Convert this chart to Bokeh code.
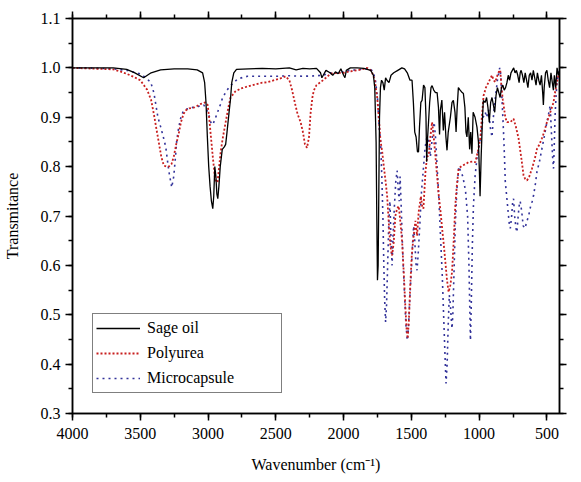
from bokeh.plotting import figure
from bokeh.models import (Range1d, LinearAxis, SingleIntervalTicker, Legend, LegendItem,
                          PrintfTickFormatter)
from bokeh.embed import file_html
from bokeh.resources import INLINE

# FTIR spectra: wavenumber (cm-1) and transmittance for each sample
sage_wn = [4000, 3900, 3800, 3700, 3600, 3540, 3475, 3420, 3350, 3250,
           3150, 3080, 3040, 3025, 3015, 3005, 2995, 2985, 2975, 2965,
           2958, 2950, 2942, 2935, 2928, 2920, 2910, 2895, 2880, 2870,
           2860, 2845, 2835, 2825, 2810, 2790, 2700, 2600, 2500, 2400,
           2350, 2300, 2250, 2200, 2170, 2160, 2150, 2130, 2100, 2080,
           2060, 2040, 2020, 2000, 1990, 1980, 1950, 1900, 1850, 1800,
           1780, 1770, 1760, 1755, 1750, 1745, 1740, 1735, 1728, 1720,
           1710, 1700, 1690, 1680, 1665, 1650, 1630, 1600, 1570,
           1550, 1530, 1510, 1495, 1485, 1475, 1465, 1455, 1447, 1440,
           1430, 1421, 1410, 1400, 1392, 1387, 1380, 1374, 1365, 1355,
           1347, 1335, 1322, 1310, 1300, 1292, 1286, 1275, 1264, 1255,
           1245, 1237, 1228, 1212, 1200, 1190, 1178, 1170, 1162, 1153,
           1140, 1125, 1116, 1105, 1097, 1090, 1080, 1070, 1062, 1053,
           1044, 1030, 1016, 1005, 998, 993, 985, 975, 969,
           955, 945, 935, 925, 915, 905, 895, 885, 875, 865,
           855, 845, 835, 825, 815, 805, 795, 785, 775, 765,
           755, 745, 735, 725, 715, 705, 697, 690, 680, 670,
           660, 650, 640, 630, 620, 610, 600, 590, 580, 570,
           560, 550, 540, 530, 526, 520, 510, 500, 490, 480,
           470, 460, 452, 445, 435, 425, 415, 405]
sage_t = [1.000, 1.000, 1.000, 1.000, 0.997, 0.990, 0.980, 0.990, 0.996, 0.998,
          0.998, 0.996, 0.990, 0.970, 0.930, 0.860, 0.800, 0.760, 0.730, 0.715,
          0.740, 0.800, 0.780, 0.745, 0.735, 0.760, 0.800, 0.835, 0.840, 0.845,
          0.870, 0.910, 0.935, 0.970, 0.990, 0.997, 0.998, 0.999, 0.998, 1.000,
          0.996, 0.999, 0.998, 0.999, 0.990, 0.980, 0.985, 0.995, 0.990, 0.985,
          0.992, 0.988, 0.998, 0.985, 0.980, 0.995, 1.000, 1.000, 0.999, 0.995,
          0.985, 0.960, 0.850, 0.700, 0.570, 0.600, 0.750, 0.900, 0.960, 0.975,
          0.970, 0.955, 0.980, 0.975, 0.970, 0.985, 0.990, 0.995, 1.000,
          0.998, 0.990, 0.975, 0.975, 0.930, 0.870, 0.860, 0.830, 0.830, 0.880,
          0.930, 0.934, 0.965, 0.960, 0.900, 0.810, 0.860, 0.887, 0.930, 0.960,
          0.964, 0.955, 0.950, 0.950, 0.920, 0.865, 0.914, 0.935, 0.873, 0.910,
          0.860, 0.833, 0.870, 0.900, 0.930, 0.934, 0.910, 0.870, 0.920, 0.960,
          0.955, 0.950, 0.948, 0.920, 0.870, 0.860, 0.900, 0.835, 0.870, 0.826,
          0.910, 0.900, 0.880, 0.850, 0.790, 0.740, 0.820, 0.900, 0.934,
          0.930, 0.940, 0.920, 0.890, 0.930, 0.940, 0.925, 0.910, 0.945, 0.960,
          0.950, 0.940, 0.960, 0.965, 0.955, 0.960, 0.970, 0.985, 0.975, 0.990,
          0.995, 1.000, 0.990, 0.995, 0.985, 0.970, 0.990, 0.995, 0.985, 0.970,
          0.990, 0.975, 0.960, 0.985, 0.990, 0.975, 0.995, 0.980, 0.965, 0.990,
          0.975, 0.965, 0.985, 0.945, 0.925, 0.960, 0.990, 0.995, 0.975, 0.960,
          0.990, 0.970, 0.955, 0.985, 0.960, 1.000, 0.985, 0.995]

poly_wn = [4000, 3900, 3800, 3700, 3650, 3600, 3550, 3500, 3450, 3420, 3400, 3380, 3362, 3345, 3326,
           3305, 3290, 3270, 3253, 3235, 3216, 3200, 3180, 3160, 3140, 3100, 3054, 3020, 3003, 2990,
           2981, 2965, 2950, 2944, 2930, 2918, 2907, 2890, 2870, 2850, 2834, 2800, 2760, 2700, 2600,
           2561, 2500, 2450, 2428, 2400, 2380, 2360, 2340, 2317, 2300, 2285, 2270, 2255, 2244, 2230,
           2220, 2200, 2170, 2130, 2097, 2050, 2000, 1950, 1900, 1850, 1826, 1800, 1789, 1770, 1760,
           1752, 1740, 1728, 1715, 1703, 1690, 1679, 1667, 1655, 1642, 1630, 1618, 1605, 1593, 1581,
           1568, 1555, 1545, 1535, 1527, 1518, 1508, 1497, 1483, 1470, 1458, 1446, 1430, 1420, 1411,
           1396, 1384, 1372, 1360, 1347, 1335, 1323, 1310, 1298, 1285, 1273, 1260, 1249, 1237, 1225,
           1212, 1200, 1188, 1176, 1165, 1151, 1126, 1100, 1078, 1050, 1028, 1010, 991, 980, 967,
           950, 930, 905, 893, 881, 865, 850, 844, 835, 825, 819, 807, 795, 770, 746, 728, 709, 690,
           672, 660, 647, 630, 610, 590, 573, 555, 537, 520, 500, 475, 451, 440, 426, 415, 405]
poly_t = [1.000, 0.999, 0.998, 0.997, 0.993, 0.988, 0.982, 0.975, 0.956, 0.935, 0.907, 0.875, 0.847, 0.820, 0.802,
          0.800, 0.800, 0.805, 0.820, 0.845, 0.867, 0.890, 0.907, 0.915, 0.918, 0.920, 0.927, 0.930, 0.925, 0.895,
          0.867, 0.820, 0.780, 0.772, 0.768, 0.800, 0.830, 0.860, 0.890, 0.920, 0.940, 0.952, 0.958, 0.963, 0.970,
          0.971, 0.976, 0.980, 0.983, 0.975, 0.955, 0.930, 0.907, 0.890, 0.870, 0.845, 0.838, 0.860, 0.907, 0.940,
          0.954, 0.965, 0.971, 0.980, 0.988, 0.990, 0.990, 0.993, 0.995, 0.998, 1.000, 0.995, 0.990, 0.975, 0.955,
          0.940, 0.900, 0.853, 0.830, 0.800, 0.770, 0.742, 0.688, 0.640, 0.620, 0.647, 0.700, 0.715, 0.720, 0.688,
          0.647, 0.580, 0.520, 0.470, 0.452, 0.490, 0.560, 0.620, 0.660, 0.690, 0.660, 0.708, 0.740, 0.720, 0.715,
          0.789, 0.820, 0.823, 0.860, 0.890, 0.860, 0.823, 0.780, 0.742, 0.710, 0.675, 0.640, 0.607, 0.570, 0.546,
          0.560, 0.586, 0.647, 0.720, 0.760, 0.796, 0.802, 0.805, 0.809, 0.810, 0.809, 0.830, 0.857, 0.900, 0.944,
          0.960, 0.971, 0.985, 0.975, 0.971, 0.985, 0.995, 0.995, 0.960, 0.935, 0.924, 0.900, 0.890, 0.890, 0.897, 0.880, 0.857, 0.820,
          0.782, 0.775, 0.772, 0.780, 0.796, 0.815, 0.836, 0.845, 0.857, 0.870, 0.890, 0.910, 0.930, 0.950, 0.971, 0.985, 0.990]

micro_wn = [4000, 3900, 3800, 3700, 3600, 3500, 3460, 3423, 3400, 3386, 3370, 3349, 3330, 3312, 3290,
            3268, 3253, 3240, 3231, 3216, 3200, 3180, 3150, 3113, 3070, 3032, 3010, 2994, 2980, 2965,
            2950, 2930, 2910, 2892, 2860, 2830, 2811, 2780, 2709, 2600, 2500, 2400, 2300, 2200, 2150,
            2100, 2050, 2000, 1950, 1900, 1850, 1800, 1780, 1765, 1750, 1740, 1727, 1718, 1710, 1703,
            1697, 1690, 1683, 1675, 1667, 1658, 1650, 1642, 1635, 1625, 1615, 1605, 1598, 1590, 1583,
            1575, 1568, 1560, 1550, 1540, 1530, 1522, 1512, 1500, 1492, 1483, 1475, 1465, 1458, 1448,
            1438, 1425, 1410, 1398, 1385, 1370, 1360, 1345, 1332, 1322, 1310, 1298, 1285, 1272, 1262,
            1252, 1244, 1236, 1228, 1220, 1212, 1205, 1200, 1194, 1186, 1176, 1165, 1150, 1135, 1120,
            1100, 1085, 1075, 1068, 1064, 1058, 1050, 1042, 1030, 1015, 1000, 985, 970, 955, 945, 930,
            918, 905, 895, 880, 865, 855, 848, 840, 832, 825, 820, 813, 807, 795, 783, 776, 770, 760,
            752, 746, 738, 728, 721, 712, 705, 697, 686, 675, 662, 647, 635, 620, 608, 598, 585, 573,
            555, 537, 520, 500, 485, 476, 465, 458, 451, 445, 440, 433, 426, 415, 405]
micro_t = [1.000, 1.000, 0.999, 0.998, 0.995, 0.988, 0.980, 0.971, 0.950, 0.927, 0.900, 0.880, 0.860, 0.840, 0.792,
           0.758, 0.780, 0.820, 0.853, 0.880, 0.900, 0.914, 0.917, 0.920, 0.922, 0.925, 0.915, 0.905, 0.890, 0.885,
           0.895, 0.910, 0.925, 0.940, 0.955, 0.965, 0.970, 0.978, 0.983, 0.983, 0.983, 0.984, 0.983, 0.984, 0.985,
           0.990, 0.990, 0.992, 0.995, 0.996, 0.998, 0.998, 0.990, 0.975, 0.940, 0.890, 0.850, 0.780, 0.700, 0.600,
           0.530, 0.485, 0.520, 0.600, 0.680, 0.730, 0.650, 0.600, 0.660, 0.720, 0.770, 0.792, 0.760, 0.730, 0.780,
           0.720, 0.660, 0.600, 0.540, 0.480, 0.448, 0.470, 0.530, 0.590, 0.640, 0.680, 0.650, 0.600, 0.590, 0.630,
           0.680, 0.750, 0.800, 0.840, 0.860, 0.850, 0.820, 0.860, 0.890, 0.860, 0.800, 0.740, 0.660, 0.580, 0.500,
           0.420, 0.361, 0.400, 0.480, 0.540, 0.520, 0.490, 0.472, 0.500, 0.580, 0.680, 0.750, 0.800, 0.790, 0.780,
           0.750, 0.700, 0.600, 0.500, 0.448, 0.520, 0.640, 0.720, 0.780, 0.820, 0.840, 0.870, 0.900, 0.910, 0.900, 0.915,
           0.880, 0.860, 0.900, 0.940, 0.975, 0.990, 1.000, 0.985, 0.940, 0.900, 0.870, 0.820, 0.770, 0.735, 0.700, 0.680, 0.675, 0.700,
           0.730, 0.735, 0.700, 0.675, 0.667, 0.700, 0.720, 0.730, 0.710, 0.680, 0.675, 0.690, 0.700, 0.720, 0.730, 0.742, 0.765, 0.790,
           0.810, 0.836, 0.860, 0.890, 0.910, 0.924, 0.860, 0.820, 0.796, 0.850, 0.900, 0.940, 0.970, 0.990, 0.995]

x_ticks_step = 500
y_ticks_step = 0.1

FONT = "Liberation Serif"

p = figure(width=581, height=482, output_backend="svg", toolbar_location=None,
           x_range=Range1d(4000, 407), y_range=Range1d(0.3, 1.1),
           min_border_left=72, min_border_right=22, min_border_top=18, min_border_bottom=69,
           x_axis_label="Wavenumber (cm\u207b\u00b9)", y_axis_label="Transmitance")

# keep handles on the labelled axes before mirrored ones are added
bottom = p.below[0]
left = p.left[0]

p.xgrid.visible = False
p.ygrid.visible = False
p.outline_line_color = "black"
p.outline_line_width = 1.5
p.background_fill_color = "white"
p.border_fill_color = "white"

micro_r = p.line(micro_wn, micro_t, line_color="#33339a", line_width=1.6, line_dash="2 4")
poly_r = p.line(poly_wn, poly_t, line_color="#c81e1e", line_width=1.8, line_dash="2 2")
sage_r = p.line(sage_wn, sage_t, line_color="black", line_width=1.3)

bottom.ticker = SingleIntervalTicker(interval=x_ticks_step, num_minor_ticks=2)
left.ticker = SingleIntervalTicker(interval=y_ticks_step, num_minor_ticks=2)
left.formatter = PrintfTickFormatter(format="%.1f")

top = LinearAxis(ticker=SingleIntervalTicker(interval=x_ticks_step, num_minor_ticks=2))
right = LinearAxis(ticker=SingleIntervalTicker(interval=y_ticks_step, num_minor_ticks=2))
p.add_layout(top, "above")
p.add_layout(right, "right")

for ax in [bottom, left, top, right]:
    ax.axis_line_width = 1.5
    ax.axis_line_color = "black"
    ax.major_tick_in = 0
    ax.major_tick_out = 7
    ax.minor_tick_in = 0
    ax.minor_tick_out = 4
    ax.major_tick_line_width = 1.5
    ax.minor_tick_line_width = 1.5
    ax.major_label_text_font = FONT
    ax.major_label_text_font_size = "16px"
    ax.major_label_text_color = "black"
    ax.axis_label_text_font = FONT
    ax.axis_label_text_font_size = "16px"
    ax.axis_label_text_font_style = "normal"
    ax.axis_label_text_color = "black"

for ax in [top, right]:
    ax.major_label_text_alpha = 0
    ax.major_label_text_font_size = "1px"
    ax.major_label_standoff = 0

bottom.major_label_standoff = 7
bottom.axis_label_standoff = 14
left.major_label_standoff = 5
left.axis_label_standoff = 17

legend = Legend(items=[LegendItem(label="Sage oil", renderers=[sage_r]),
                       LegendItem(label="Polyurea", renderers=[poly_r]),
                       LegendItem(label="Microcapsule", renderers=[micro_r])],
                location=(20, 20))
legend.label_text_font = FONT
legend.label_text_font_size = "16px"
legend.label_text_color = "black"
legend.glyph_width = 44
legend.label_width = 131
legend.label_height = 22
legend.glyph_height = 22
legend.spacing = 3
legend.padding = 3
legend.margin = 0
legend.label_standoff = 7
legend.border_line_color = "black"
legend.border_line_width = 1.3
legend.background_fill_alpha = 1.0
p.add_layout(legend, "center")

open("out.html", "w").write(file_html(p, INLINE))
